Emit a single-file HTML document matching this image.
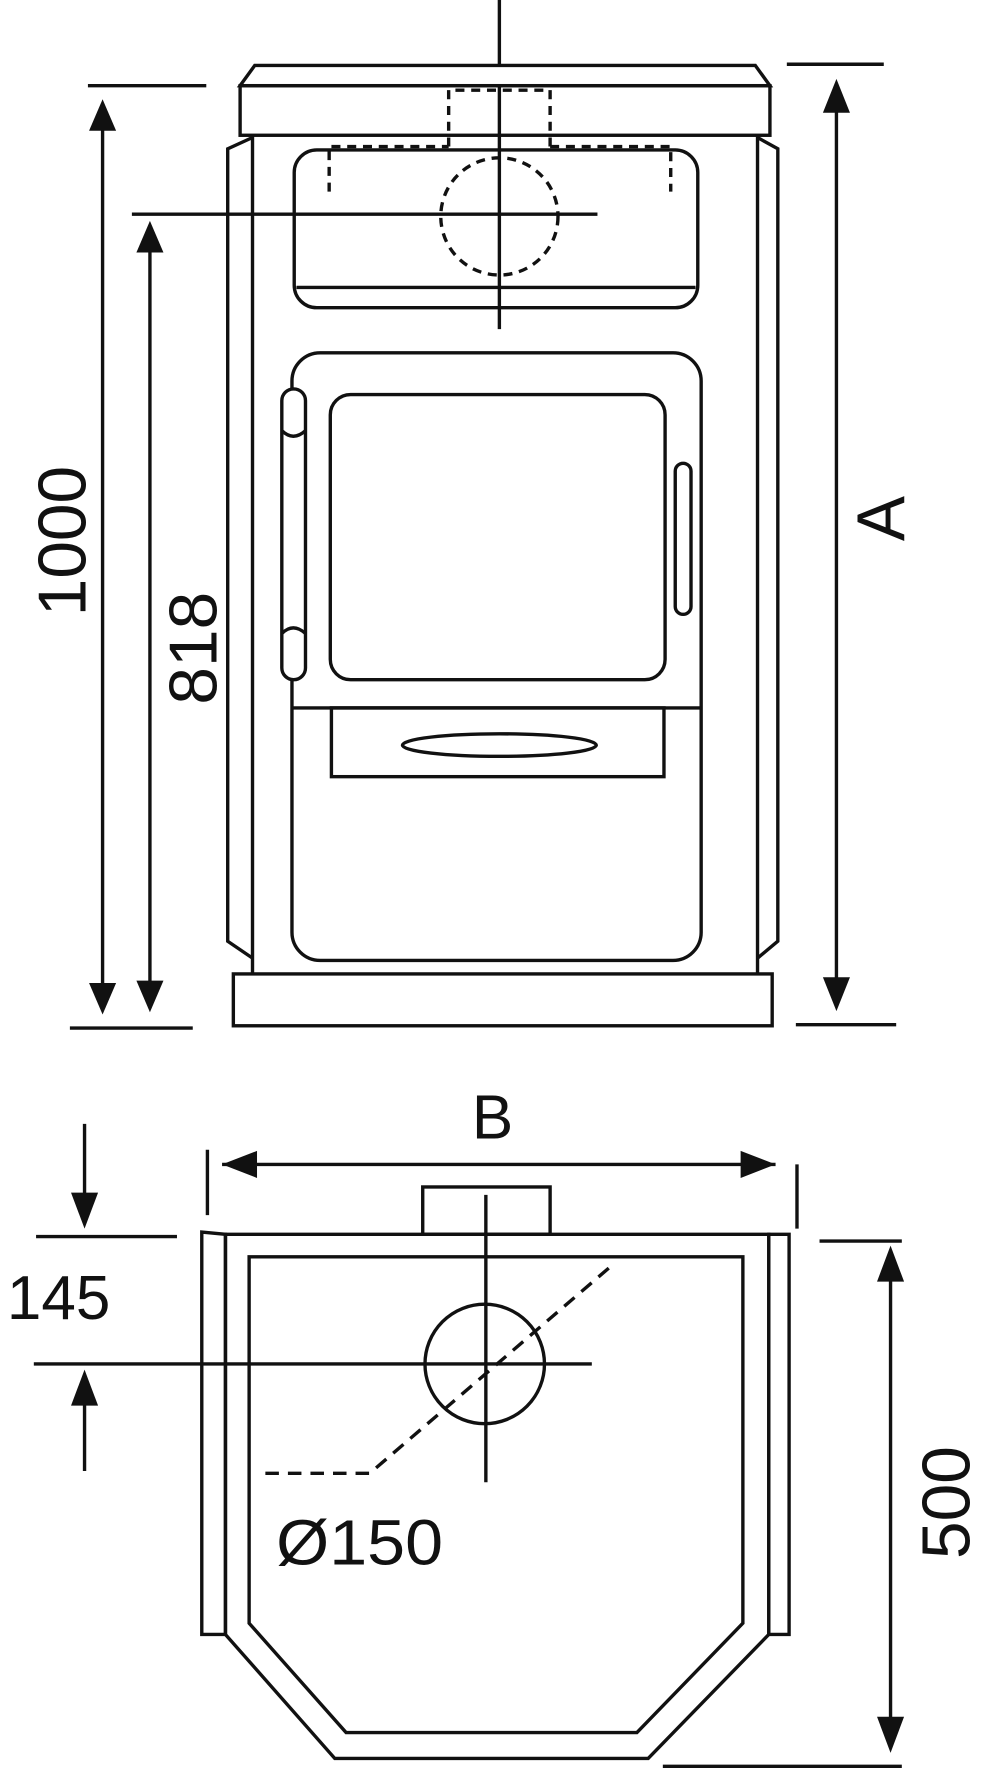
<!DOCTYPE html>
<html><head><meta charset="utf-8"><style>
html,body{margin:0;padding:0;background:#fff;}
svg{display:block;}
text{font-family:"Liberation Sans",sans-serif;fill:#111;}
</style></head><body>
<svg width="992" height="1772" viewBox="0 0 880 1572" preserveAspectRatio="none" xmlns="http://www.w3.org/2000/svg">
<g fill="none" stroke="#111" stroke-width="3">
<!-- front view -->
<line x1="443" y1="0" x2="443" y2="292"/>
<polygon points="213,76 226,58 670,58 683,76" fill="#fff"/>
<rect x="213" y="76" width="470" height="44"/>
<g stroke-dasharray="8,6">
<polyline points="398,130 398,80 488,80 488,130"/>
<polyline points="292,170 292,130 398,130"/>
<polyline points="488,130 595,130 595,170"/>
<circle cx="443" cy="192" r="52"/>
</g>
<line x1="224" y1="120" x2="224" y2="864"/>
<line x1="672" y1="120" x2="672" y2="864"/>
<polyline points="224,122 202,132 202,835 224,850"/>
<polyline points="672,122 690,132 690,835 672,850"/>
<rect x="261" y="133" width="358" height="140" rx="20"/>
<line x1="263" y1="255" x2="617" y2="255"/>
<line x1="117" y1="190" x2="530" y2="190"/>
<rect x="259" y="313" width="363" height="539" rx="25"/>
<line x1="259" y1="628" x2="622" y2="628"/>
<rect x="293" y="350" width="297" height="253" rx="18"/>
<rect x="250" y="345" width="21" height="258" rx="10.5" fill="#fff"/>
<path d="M250,382 Q260,392 271,382 M250,562 Q260,552 271,562"/>
<rect x="599" y="411" width="14" height="134" rx="7"/>
<rect x="294" y="628" width="295" height="61"/>
<ellipse cx="443" cy="661" rx="86" ry="10"/>
<rect x="207" y="864" width="478" height="46"/>
<!-- dims front -->
<line x1="78" y1="76" x2="183" y2="76"/>
<line x1="62" y1="912" x2="171" y2="912"/>
<line x1="91" y1="110" x2="91" y2="878"/>
<line x1="133" y1="220" x2="133" y2="875"/>
<line x1="698" y1="57" x2="784" y2="57"/>
<line x1="706" y1="909" x2="795" y2="909"/>
<line x1="742" y1="95" x2="742" y2="872"/>
<!-- top view -->
<line x1="197" y1="1033" x2="688" y2="1033"/>
<line x1="184" y1="1020" x2="184" y2="1078"/>
<line x1="707" y1="1033" x2="707" y2="1090"/>
<rect x="375" y="1053" width="113" height="42"/>
<polygon points="179,1093 200,1095 200,1450 179,1450"/>
<polygon points="682,1095 700,1095 700,1450 682,1450"/>
<polygon points="200,1095 682,1095 682,1450 575,1560 297,1560 200,1450"/>
<polygon points="221,1115 659,1115 659,1440 565,1537 307,1537 221,1440"/>
<circle cx="430" cy="1210" r="53"/>
<line x1="431" y1="1060" x2="431" y2="1315"/>
<line x1="30" y1="1210" x2="525" y2="1210"/>
<polyline points="540,1125 328,1307 235,1307" stroke-dasharray="12,8"/>
<line x1="32" y1="1097" x2="157" y2="1097"/>
<line x1="75" y1="997" x2="75" y2="1065"/>
<line x1="75" y1="1245" x2="75" y2="1305"/>
<line x1="727" y1="1101" x2="800" y2="1101"/>
<line x1="588" y1="1567" x2="800" y2="1567"/>
<line x1="790" y1="1130" x2="790" y2="1530"/>
</g>
<g fill="#111">
<polygon points="91,88 79,116 103,116"/>
<polygon points="91,900 79,872 103,872"/>
<polygon points="133,196 121,224 145,224"/>
<polygon points="133,898 121,870 145,870"/>
<polygon points="742,70 730,100 754,100"/>
<polygon points="742,897 730,867 754,867"/>
<polygon points="197,1033 228,1021 228,1045"/>
<polygon points="688,1033 657,1021 657,1045"/>
<polygon points="75,1090 63,1058 87,1058"/>
<polygon points="75,1215 63,1247 87,1247"/>
<polygon points="790,1105 778,1137 802,1137"/>
<polygon points="790,1555 778,1523 802,1523"/>
</g>
<text x="0" y="0" font-size="60" text-anchor="middle" transform="translate(76,480) rotate(-90)">1000</text>
<text x="0" y="0" font-size="60" text-anchor="middle" transform="translate(192,575) rotate(-90)">818</text>
<text x="0" y="0" font-size="60" text-anchor="middle" transform="translate(802,460) rotate(-90)">A</text>
<text x="437" y="1010" font-size="55" text-anchor="middle">B</text>
<text x="52" y="1170" font-size="55" text-anchor="middle">145</text>
<text x="245" y="1388" font-size="57" textLength="148" lengthAdjust="spacingAndGlyphs">Ø150</text>
<text x="0" y="0" font-size="60" text-anchor="middle" transform="translate(860,1333) rotate(-90)">500</text>
</svg>
</body></html>
